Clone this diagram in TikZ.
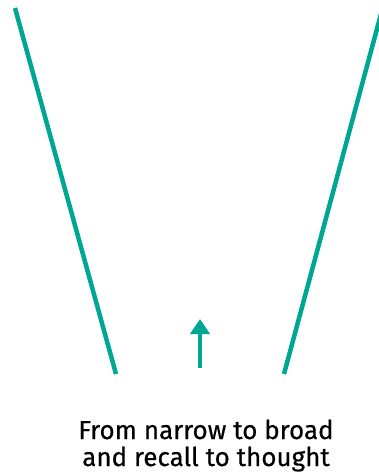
\documentclass[tikz,border=0pt]{standalone}
\usepackage{fontspec}
\setmainfont{Fira Sans}[FakeBold=0.5]
\usetikzlibrary{arrows.meta}
\definecolor{teal1}{RGB}{0,166,148}
\begin{document}
\begin{tikzpicture}[x=1pt,y=-1pt,
  funnel/.style={draw=teal1,line width=4.5pt},
  uparrow/.style={draw=teal1,line width=4.5pt,-{Triangle[length=15pt,width=19pt]}},
  caption/.style={anchor=base,inner sep=0pt,font=\fontsize{26}{27}\selectfont,text=black}]
\useasboundingbox (0,0) rectangle (379,476);
\coordinate (l1) at (15,8);
\coordinate (l2) at (116,374);
\coordinate (r1) at (381,14);
\coordinate (r2) at (284,374);
\coordinate (a1) at (200,368);
\coordinate (a2) at (200,319);
\draw[funnel] (l1) -- (l2);
\draw[funnel] (r1) -- (r2);
\draw[uparrow] (a1) -- (a2);
\node[caption] (cap1) at (206,439) {From narrow to broad};
\node[caption] (cap2) at (206,466) {and recall to thought};
\end{tikzpicture}
\end{document}
